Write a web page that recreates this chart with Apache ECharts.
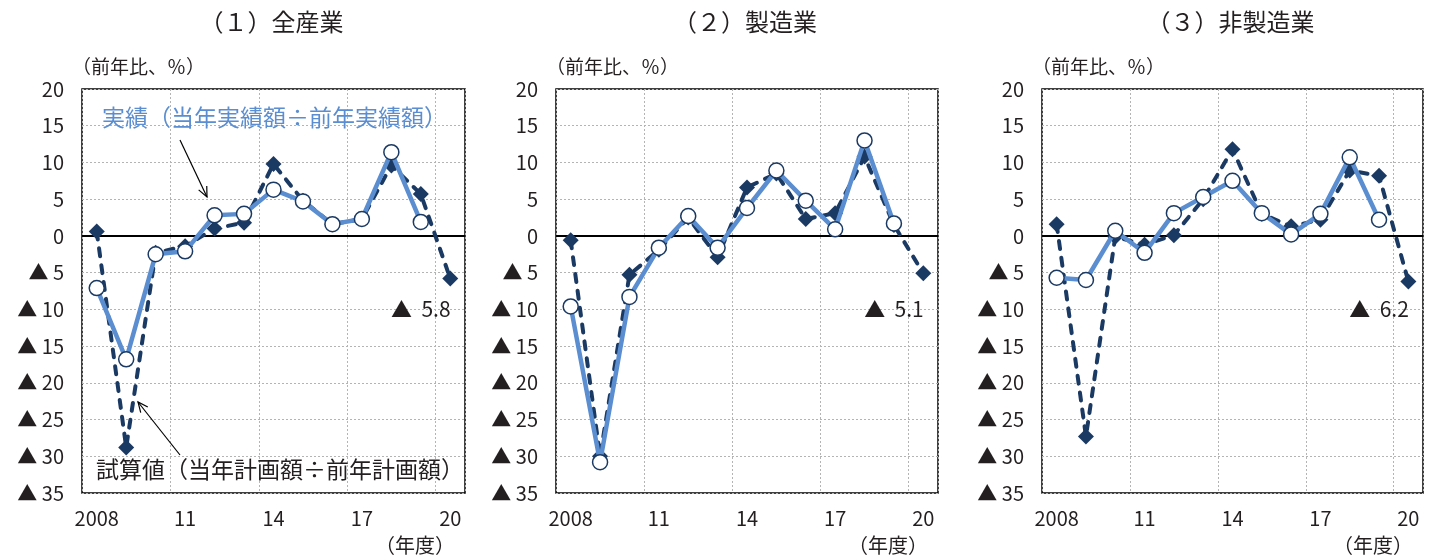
<!DOCTYPE html>
<html lang="ja">
<head>
<meta charset="utf-8">
<title>設備投資計画 前年比</title>
<script src="https://cdn.jsdelivr.net/npm/echarts@6/dist/echarts.min.js"></script>
<style>
  html, body { margin: 0; padding: 0; background: #fff; }
  #chart { width: 1435px; height: 557px; }
</style>
</head>
<body>
<div id="chart"></div>
<script>
// 年度（2008年度〜2020年度）
const categories = ['2008', '09', '10', '11', '12', '13', '14', '15', '16', '17', '18', '19', '20'];

// 縦軸目盛り
const yMin = -35, yMax = 20, yStep = 5;

// パネル見出し
const panelTitles = ['（１）全産業', '（２）製造業', '（３）非製造業'];

// 実績（当年実績額÷前年実績額）
const actualAll = [-7.1, -16.8, -2.5, -2.1, 2.8, 3.0, 6.3, 4.7, 1.6, 2.3, 11.4, 1.9, null];
const actualMfg = [-9.6, -30.8, -8.3, -1.6, 2.7, -1.6, 3.8, 8.9, 4.8, 0.9, 13.0, 1.7, null];
const actualNonMfg = [-5.7, -6.0, 0.7, -2.3, 3.1, 5.3, 7.5, 3.1, 0.2, 3.0, 10.7, 2.2, null];

// 試算値（当年計画額÷前年計画額）
const planAll = [0.6, -28.8, -2.3, -1.4, 1.0, 1.8, 9.8, 4.8, 1.6, 2.3, 9.6, 5.7, -5.8];
const planMfg = [-0.6, -30.0, -5.3, -1.9, 2.5, -2.9, 6.6, 8.5, 2.3, 3.1, 10.8, 1.5, -5.1];
const planNonMfg = [1.6, -27.3, -0.1, -1.2, 0.1, 5.0, 11.8, 3.0, 1.3, 2.2, 8.9, 8.2, -6.2];

const actualSeries = [actualAll, actualMfg, actualNonMfg];
const planSeries = [planAll, planMfg, planNonMfg];

const FONT = "'Noto Sans CJK JP', 'Noto Sans', sans-serif";
const TEXT = '#231f20';
const NAVY = '#1b3a63';
const BLUE = '#5b8ed0';
const GRID_GRAY = '#b4b4b4';

// 描画領域（各パネルのプロット枠）
const grids = [
  { left: 82, top: 89, width: 383, height: 404 },
  { left: 556, top: 89, width: 382, height: 404 },
  { left: 1042, top: 89, width: 381, height: 404 }
];

const negLabel = v => (v < 0 ? '▲ ' + Math.abs(v) : String(v));

const option = {
  animation: false,
  textStyle: { fontFamily: FONT },
  grid: grids.map(g => ({
    left: g.left, top: g.top, width: g.width, height: g.height,
    show: true, borderColor: '#000', borderWidth: 1.5, backgroundColor: 'transparent',
    containLabel: false
  })),
  xAxis: grids.map((g, k) => ({
    type: 'category',
    gridIndex: k,
    data: categories,
    boundaryGap: true,
    axisLine: { show: false },
    axisTick: { show: false },
    axisLabel: {
      interval: 2, margin: 15, color: TEXT, fontSize: 20, fontFamily: FONT
    },
    splitLine: {
      show: true, interval: 2,
      lineStyle: { color: GRID_GRAY, width: 1, type: [2, 2] }
    }
  })),
  yAxis: grids.map((g, k) => ({
    type: 'value',
    gridIndex: k,
    min: yMin, max: yMax, interval: yStep,
    axisLine: { show: false },
    axisTick: { show: false },
    axisLabel: {
      margin: 18, color: TEXT, fontSize: 20, fontFamily: FONT,
      formatter: negLabel
    },
    splitLine: { show: true, lineStyle: { color: GRID_GRAY, width: 1, type: [2, 2] } }
  })),
  series: [],
  graphic: []
};

grids.forEach((g, k) => {
  const plan = planSeries[k];
  const last = plan[plan.length - 1];
  option.series.push({
    name: '試算値',
    type: 'line',
    xAxisIndex: k, yAxisIndex: k,
    data: plan,
    symbol: 'diamond',
    symbolSize: 16,
    z: 2,
    lineStyle: { color: NAVY, width: 4, type: [8, 9], cap: 'round' },
    itemStyle: { color: NAVY },
    markLine: {
      silent: true,
      symbol: 'none',
      z: 1,
      label: { show: false },
      lineStyle: { color: '#000', width: 2, type: 'solid', cap: 'butt' },
      data: [{ yAxis: 0 }]
    },
    markPoint: {
      silent: true,
      symbol: 'circle',
      symbolSize: 1,
      itemStyle: { color: 'rgba(0,0,0,0)' },
      label: {
        show: true, position: 'inside', color: TEXT, fontSize: 21, fontFamily: FONT,
        formatter: () => '▲  ' + Math.abs(last).toFixed(1)
      },
      data: [{ coord: [categories.length - 2, -10] }]
    }
  });
  option.series.push({
    name: '実績',
    type: 'line',
    xAxisIndex: k, yAxisIndex: k,
    data: actualSeries[k],
    symbol: 'circle',
    symbolSize: 15,
    z: 3,
    lineStyle: { color: BLUE, width: 4.5 },
    itemStyle: { color: '#fff', borderColor: NAVY, borderWidth: 1.5 }
  });

  // 見出し・単位
  option.graphic.push({
    type: 'text',
    x: g.left + g.width / 2 - 2, y: 22,
    style: { text: panelTitles[k], font: '24px ' + FONT, fill: TEXT, textAlign: 'center', textVerticalAlign: 'middle' }
  });
  option.graphic.push({
    type: 'text',
    x: g.left - 10, y: 67,
    style: { text: '（前年比、％）', font: '19px ' + FONT, fill: TEXT, textAlign: 'left', textVerticalAlign: 'middle' }
  });
  option.graphic.push({
    type: 'text',
    x: g.left + g.width - 10, y: 545,
    style: { text: '（年度）', font: '20px ' + FONT, fill: TEXT, textAlign: 'right', textVerticalAlign: 'middle' }
  });
});

// 注記と矢印（全産業パネル）
function arrow(x1, y1, x2, y2) {
  const dx = x2 - x1, dy = y2 - y1;
  const len = Math.hypot(dx, dy);
  const ux = dx / len, uy = dy / len;
  const head = 11, spread = 0.42;
  const cos = Math.cos(spread), sin = Math.sin(spread);
  const ax = x2 - head * (ux * cos - uy * sin), ay = y2 - head * (uy * cos + ux * sin);
  const bx = x2 - head * (ux * cos + uy * sin), by = y2 - head * (uy * cos - ux * sin);
  return [
    { type: 'line', shape: { x1, y1, x2, y2 }, style: { stroke: '#000', lineWidth: 1.2 }, z: 10 },
    { type: 'polyline', shape: { points: [[ax, ay], [x2, y2], [bx, by]] }, style: { stroke: '#000', lineWidth: 1.2, fill: null }, z: 10 }
  ];
}

option.graphic.push(
  {
    type: 'text', x: 102, y: 117, z: 10,
    style: { text: '実績（当年実績額÷前年実績額）', font: '23px ' + FONT, fill: BLUE, textAlign: 'left', textVerticalAlign: 'middle' }
  },
  {
    type: 'text', x: 96, y: 469, z: 10,
    style: { text: '試算値（当年計画額÷前年計画額）', font: '23px ' + FONT, fill: TEXT, textAlign: 'left', textVerticalAlign: 'middle' }
  },
  ...arrow(180, 140, 207, 197),
  ...arrow(180, 455, 138, 402)
);

const chart = echarts.init(document.getElementById('chart'), null, { renderer: 'canvas', width: 1435, height: 557 });
chart.setOption(option);
</script>
</body>
</html>
